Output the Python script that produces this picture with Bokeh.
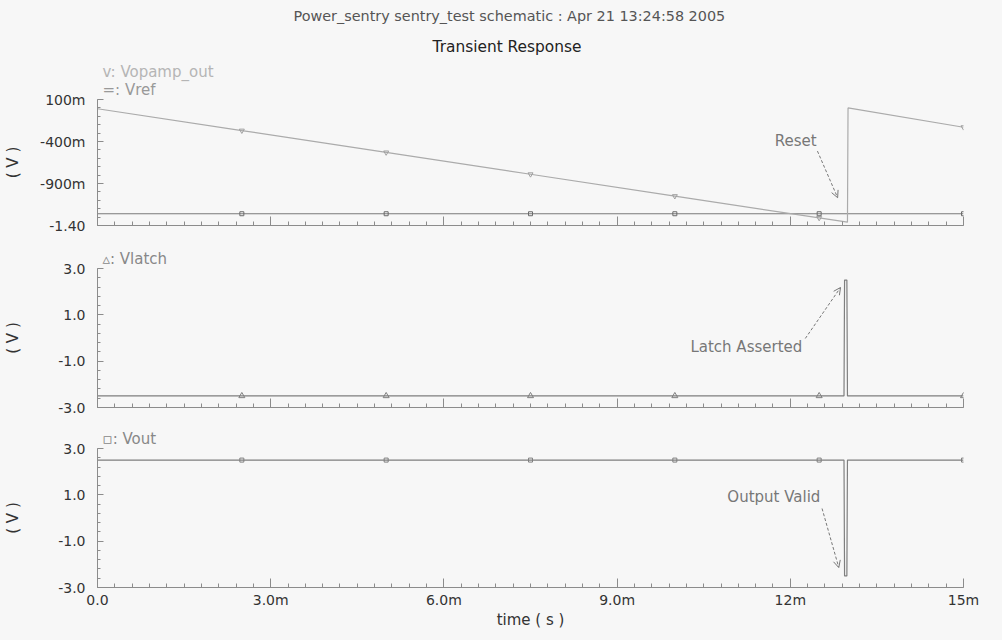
from bokeh.plotting import figure
from bokeh.layouts import column
from bokeh.models import (Range1d, FixedTicker, CustomJSTickFormatter, Label,
                          Arrow, OpenHead, Title)
from bokeh.embed import file_html
from bokeh.resources import INLINE

# ---------------- data (time in ms, voltage in V) ----------------
title_text = "Power_sentry sentry_test schematic : Apr 21 13:24:58 2005"
subtitle_text = "Transient Response"

t_opamp = [0.0, 2.5, 5.0, 7.5, 10.0, 12.5, 12.99, 13.0, 15.0]
v_opamp = [-0.01, -0.27, -0.53, -0.79, -1.05, -1.31, -1.36, 0.0, -0.23]

t_vref = [0.0, 15.0]
v_vref = [-1.26, -1.26]

t_latch = [0.0, 12.93, 12.94, 12.98, 12.99, 15.0]
v_latch = [-2.5, -2.5, 2.5, 2.5, -2.5, -2.5]

t_vout = [0.0, 12.93, 12.94, 12.98, 12.99, 15.0]
v_vout = [2.5, 2.5, -2.5, -2.5, 2.5, 2.5]

mark_t = [2.5, 5.0, 7.5, 10.0, 12.5, 15.0]
mark_opamp = [-0.27, -0.53, -0.79, -1.05, -1.31, -0.23]
mark_vref = [-1.26, -1.26, -1.26, -1.26, -1.26, -1.26]
mark_latch = [-2.5, -2.5, -2.5, -2.5, -2.5, -2.5]
mark_vout = [2.5, 2.5, 2.5, 2.5, 2.5, 2.5]

x_ticks = [0, 3, 6, 9, 12, 15]
x_minor = [i * 0.3 for i in range(51)]
x_labels = ["0.0", "3.0m", "6.0m", "9.0m", "12m", "15m"]

y1_ticks = [0.1, -0.4, -0.9, -1.4]
y1_minor = [0.1 - i * 0.1 for i in range(16)]
y1_labels = ["100m", "-400m", "-900m", "-1.40"]

y2_ticks = [3.0, 1.0, -1.0, -3.0]
y2_minor = [3.0 - i * 0.4 for i in range(16)]
y2_labels = ["3.0", "1.0", "-1.0", "-3.0"]

# ---------------- styles ----------------
BG = "#f7f7f7"
AX = "#8c8c8c"
FONT = "DejaVu Sans"
LOOKUP = """
const i = vals.findIndex(v => Math.abs(v - tick) < 1e-9);
return i >= 0 ? labs[i] : "";
"""


def panel(height, top, bottom, yr, yt, ym, yl, label_standoff, show_x):
    p = figure(width=1002, height=height, output_backend="svg", toolbar_location=None,
               x_range=Range1d(0, 15), y_range=Range1d(*yr),
               min_border_left=97, min_border_right=39,
               min_border_top=top, min_border_bottom=bottom,
               background_fill_color=BG, border_fill_color=BG,
               outline_line_color=None)
    p.grid.grid_line_color = None

    xa = p.xaxis[0]
    xa.ticker = FixedTicker(ticks=x_ticks, minor_ticks=x_minor)
    xa.axis_line_color = AX
    xa.major_tick_line_color = AX
    xa.minor_tick_line_color = AX
    xa.major_tick_in = 9
    xa.major_tick_out = 0
    xa.minor_tick_in = 4
    xa.minor_tick_out = 0
    if show_x:
        xa.formatter = CustomJSTickFormatter(args=dict(vals=x_ticks, labs=x_labels), code=LOOKUP)
        xa.major_label_text_font = FONT
        xa.major_label_text_font_size = "14px"
        xa.major_label_text_color = "#333333"
        xa.major_label_standoff = 4
        xa.axis_label = "time ( s )"
        xa.axis_label_text_font = FONT
        xa.axis_label_text_font_size = "15px"
        xa.axis_label_text_font_style = "normal"
        xa.axis_label_text_color = "#333333"
        xa.axis_label_standoff = 0
    else:
        xa.formatter = CustomJSTickFormatter(code="return ''")
        xa.major_label_text_font_size = "0px"
        xa.major_label_standoff = 0

    ya = p.yaxis[0]
    ya.ticker = FixedTicker(ticks=yt, minor_ticks=ym)
    ya.formatter = CustomJSTickFormatter(args=dict(vals=yt, labs=yl), code=LOOKUP)
    ya.axis_line_color = AX
    ya.major_tick_line_color = AX
    ya.minor_tick_line_color = AX
    ya.major_tick_in = 6
    ya.major_tick_out = 0
    ya.minor_tick_in = 3
    ya.minor_tick_out = 0
    ya.major_label_text_font = FONT
    ya.major_label_text_font_size = "14px"
    ya.major_label_text_color = "#333333"
    ya.major_label_standoff = 12
    ya.axis_label = "( V )"
    ya.axis_label_text_font = FONT
    ya.axis_label_text_font_size = "15px"
    ya.axis_label_text_font_style = "normal"
    ya.axis_label_text_color = "#333333"
    ya.axis_label_standoff = label_standoff
    return p


def head(p, s, color, size, offset, standoff):
    p.add_layout(Title(text=s, text_color=color, text_font=FONT, text_font_size=size,
                       text_font_style="normal", align="left", offset=offset,
                       standoff=standoff), "above")


def text(p, x, y, s, color, size="15px", align="left"):
    p.add_layout(Label(x=x, y=y, text=s, text_color=color, text_font=FONT,
                       text_font_size=size, text_align=align, text_baseline="middle"))


def arrow(p, x0, y0, x1, y1):
    p.add_layout(Arrow(end=OpenHead(size=7, line_color="#777777", line_width=1),
                       x_start=x0, y_start=y0, x_end=x1, y_end=y1,
                       line_color="#777777", line_width=1, line_dash="3 2"))


# ---------------- panel 1 ----------------
p1 = panel(240, 98, 15, (-1.4, 0.1), y1_ticks, y1_minor, y1_labels, 15, False)
p1.line(t_vref, v_vref, line_color="#7a7a7a", line_width=1.2)
p1.scatter(mark_t, mark_vref, marker="square", size=4, fill_color=None, line_color="#6a6a6a")
p1.line(t_opamp, v_opamp, line_color="#ababab", line_width=1.2)
p1.scatter(mark_t, mark_opamp, marker="inverted_triangle", size=5, fill_color=None,
           line_color="#a0a0a0")
head(p1, "=: Vref", "#999999", "15px", 5, 1)
head(p1, "v: Vopamp_out", "#b5b5b5", "15px", 5, -4)
head(p1, subtitle_text, "#222222", "15.4px", 335, 14)
head(p1, title_text, "#555555", "14.4px", 196, 10)
text(p1, 11.73, -0.396, "Reset", "#777777")
arrow(p1, 12.47, -0.514, 12.82, -1.069)

# ---------------- panel 2 ----------------
p2 = panel(180, 28, 13, (-3.0, 3.0), y2_ticks, y2_minor, y2_labels, 33, False)
p2.line(t_latch, v_latch, line_color="#7f7f7f", line_width=1.2)
p2.scatter(mark_t, mark_latch, marker="triangle", size=6, fill_color=None, line_color="#7f7f7f")
head(p2, "\u25b5: Vlatch", "#888888", "15px", 5, 2)
text(p2, 10.27, -0.41, "Latch Asserted", "#777777")
arrow(p2, 12.26, -0.02, 12.87, 2.18)

# ---------------- panel 3 ----------------
p3 = panel(220, 28, 53, (-3.0, 3.0), y2_ticks, y2_minor, y2_labels, 33, True)
p3.line(t_vout, v_vout, line_color="#7f7f7f", line_width=1.2)
p3.scatter(mark_t, mark_vout, marker="square", size=4, fill_color=None, line_color="#7f7f7f")
head(p3, "\u25ab: Vout", "#888888", "15px", 5, 1)
text(p3, 10.91, 0.885, "Output Valid", "#777777")
arrow(p3, 12.55, 0.41, 12.84, -2.14)

layout = column(p1, p2, p3, spacing=0, styles={"background-color": BG})
open("out.html", "w").write(file_html(layout, INLINE))
